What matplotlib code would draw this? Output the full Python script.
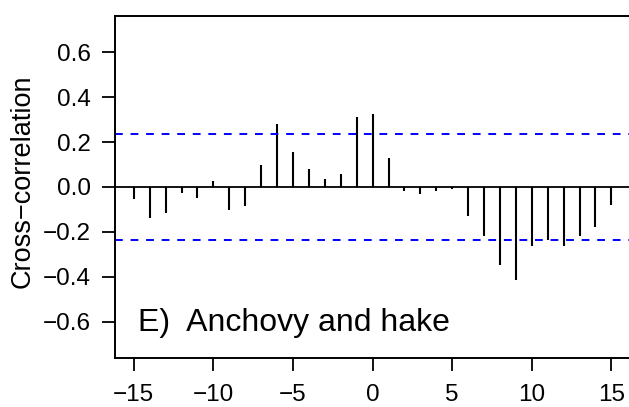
import matplotlib
matplotlib.use("Agg")
import matplotlib.pyplot as plt
import numpy as np

plt.rcParams["font.family"] = ["Liberation Sans", "DejaVu Sans"]

# cross-correlation by lag
lags = np.arange(-15, 16)
ccf = [-0.053, -0.138, -0.116, -0.027, -0.049, 0.025, -0.101, -0.083,
       0.100, 0.282, 0.154, 0.079, 0.037, 0.056, 0.311,
       0.326, 0.131, -0.019, -0.030, -0.016, -0.009, -0.130, -0.216,
       -0.348, -0.413, -0.262, -0.236, -0.262, -0.216, -0.179, -0.079]
ci = 0.237
xticks = [-15, -10, -5, 0, 5, 10, 15]
yticks = [-0.6, -0.4, -0.2, 0.0, 0.2, 0.4, 0.6]

W, H = 629, 407
fig = plt.figure(figsize=(W / 100, H / 100), dpi=100)
ax = fig.add_axes([114.7 / W, 1 - 357.5 / H, (630.5 - 114.7) / W, (357.5 - 16) / H])

ax.vlines(lags, 0, ccf, color="black", lw=1.5)
ax.axhline(0, color="black", lw=1.3)
for c in (ci, -ci):
    ax.axhline(c, color="#0000ff", lw=1.4, ls=(0, (4, 4)))

ax.set_xlim(-16.2, 16.2)
ax.set_ylim(-0.759, 0.761)
ax.set_xticks(xticks)
ax.set_yticks(yticks)
ax.set_yticklabels([f"{v:.1f}".replace("-", "\u2212") for v in yticks])
ax.set_xticklabels([str(v).replace("-", "\u2212") for v in xticks])
ax.tick_params(axis="both", length=9.4, width=1.3, labelsize=17.5)
ax.tick_params(axis="x", pad=10)
ax.tick_params(axis="y", pad=8)
for s in ax.spines.values():
    s.set_linewidth(1.4)

fig.text(22.5 / W, 1 - 181 / H, "Cross\u2212correlation", rotation=90,
         ha="center", va="center", fontsize=19.5)
ax.text(-14.75, -0.643, "E)  Anchovy and hake", ha="left", va="baseline",
        fontsize=23)

fig.savefig("out.png", dpi=100)
